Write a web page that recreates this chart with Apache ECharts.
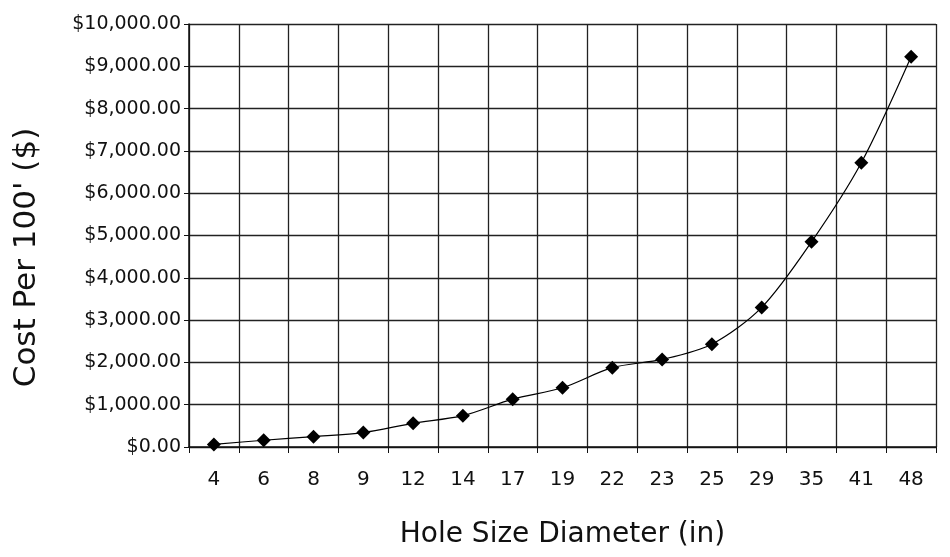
<!DOCTYPE html>
<html>
<head>
<meta charset="utf-8">
<script src="https://cdn.jsdelivr.net/npm/echarts@6/dist/echarts.min.js"></script>
<style>
  html, body { margin: 0; padding: 0; background: #fff; }
  #chart { width: 950px; height: 557px; }
</style>
</head>
<body>
<div id="chart"></div>
<script>
// hole diameters (in) and cost per 100 ft
const holeSizes = ['4', '6', '8', '9', '12', '14', '17', '19', '22', '23', '25', '29', '35', '41', '48']
const costPer100 = [60, 160, 245, 340, 560, 740, 1130, 1400, 1875, 2070, 2430, 3300, 4850, 6720, 9225]

const myChart = echarts.init(document.getElementById('chart'))
const fontFam = '"DejaVu Sans", Arial, sans-serif'

const option = {
  animation: false,
  grid: { left: 189, right: 14, top: 24, bottom: 110 },
  xAxis: {
    type: 'category',
    data: holeSizes,
    boundaryGap: true,
    name: 'Hole Size Diameter (in)',
    nameLocation: 'middle',
    nameGap: 74,
    nameTextStyle: { fontFamily: fontFam, fontSize: 28, color: '#111' },
    axisLine: { lineStyle: { color: '#111', width: 1.5 } },
    axisTick: { show: true, alignWithLabel: false, length: 6, lineStyle: { color: '#111' } },
    axisLabel: { fontFamily: fontFam, fontSize: 20, color: '#111', margin: 23 },
    splitLine: { show: true, lineStyle: { color: '#222', width: 1.3 } }
  },
  yAxis: {
    type: 'value',
    min: 0,
    max: 10000,
    interval: 1000,
    name: "Cost Per 100' ($)",
    nameLocation: 'middle',
    nameGap: 147,
    nameTextStyle: { fontFamily: fontFam, fontSize: 31, color: '#111', padding: [0, 44, 0, 0] },
    axisLine: { show: true, lineStyle: { color: '#111', width: 1.5 } },
    axisTick: { show: true, length: 5, lineStyle: { color: '#111' } },
    axisLabel: {
      fontFamily: fontFam, fontSize: 19, color: '#111', margin: 8,
      formatter: function (v) {
        return '$' + v.toLocaleString('en-US', { minimumFractionDigits: 2, maximumFractionDigits: 2 })
      }
    },
    splitLine: { show: true, lineStyle: { color: '#222', width: 1.3 } }
  },
  series: [
    {
      type: 'line',
      data: costPer100,
      smooth: 0.3,
      symbol: 'diamond',
      symbolSize: 14,
      itemStyle: { color: '#000' },
      lineStyle: { color: '#000', width: 1.2 }
    }
  ]
}
myChart.setOption(option)
</script>
</body>
</html>
